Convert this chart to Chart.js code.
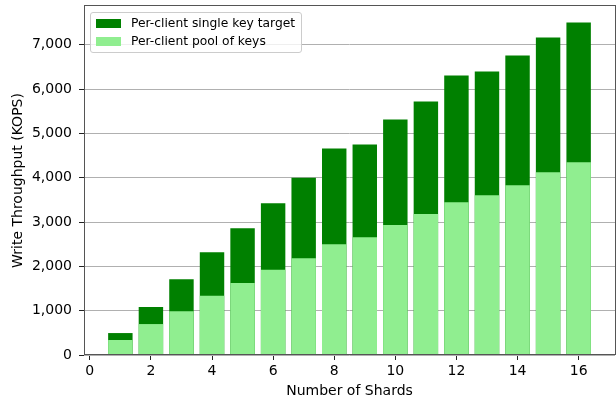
<!DOCTYPE html>
<html>
<head>
<meta charset="utf-8">
<script src="https://cdn.jsdelivr.net/npm/chart.js@4/dist/chart.umd.min.js"></script>
<style>
  html, body { margin: 0; padding: 0; background: #fff; }
  #wrap { position: relative; width: 616px; height: 402px; }
  #legend {
    position: absolute; left: 90px; top: 12px; width: 210px; height: 39px;
    border: 1px solid #cccccc; border-radius: 3px; background: rgba(255,255,255,0.8);
    font-family: "DejaVu Sans", sans-serif; font-size: 12.3px; color: #000;
  }
  .row { position: absolute; left: 0; height: 14px; display: flex; align-items: center; }
  .sw { position: absolute; left: 5px; width: 25px; height: 9px; }
  .lbl { position: absolute; left: 40px; white-space: nowrap; line-height: 14px; }
</style>
</head>
<body>
<div id="wrap">
  <canvas id="c" width="616" height="402"></canvas>
  <div id="legend">
    <div class="row" style="top:3px"><div class="sw" style="background:#008000;top:2.5px"></div><div class="lbl">Per-client single key target</div></div>
    <div class="row" style="top:21px"><div class="sw" style="background:#90ee90;top:2.5px"></div><div class="lbl">Per-client pool of keys</div></div>
  </div>
</div>
<script>
const shards = [1, 2, 3, 4, 5, 6, 7, 8, 9, 10, 11, 12, 13, 14, 15, 16];
const singleKey = [495, 1081, 1712, 2320, 2860, 3423, 4000, 4662, 4752, 5315, 5721, 6306, 6396, 6757, 7162, 7500];
const poolKeys = [338, 698, 990, 1336, 1622, 1921, 2185, 2500, 2658, 2935, 3180, 3446, 3604, 3829, 4122, 4347];
const xTicks = [0, 2, 4, 6, 8, 10, 12, 14, 16];
const yTicks = [0, 1000, 2000, 3000, 4000, 5000, 6000, 7000];

const FONT = "DejaVu Sans";

const frame = {
  id: 'frame',
  afterDraw(chart) {
    const {ctx, chartArea: a} = chart;
    ctx.save();
    ctx.strokeStyle = '#555555';
    ctx.lineWidth = 1;
    ctx.strokeRect(a.left + 0.5, a.top - 0.5, a.right - a.left, a.bottom - a.top);
    ctx.restore();
  }
};

new Chart(document.getElementById('c'), {
  type: 'bar',
  data: {
    datasets: [
      { label: 'Per-client single key target', data: shards.map((s, i) => ({x: s, y: singleKey[i]})),
        backgroundColor: '#008000', order: 1 },
      { label: 'Per-client pool of keys', data: shards.map((s, i) => ({x: s, y: poolKeys[i]})),
        backgroundColor: '#90ee90', order: 0 }
    ]
  },
  options: {
    responsive: false,
    animation: false,
    events: [],
    grouped: false,
    barPercentage: 0.8,
    categoryPercentage: 1.0,
    layout: { padding: { left: 0, right: 1, top: 6, bottom: 0 } },
    plugins: { legend: { display: false }, tooltip: { enabled: false } },
    scales: {
      x: {
        type: 'linear', min: -0.19, max: 17.19, z: 1, offset: false,
        afterBuildTicks: s => { s.ticks = xTicks.map(v => ({value: v})); },
        afterFit: s => { s.height = 47; s.paddingLeft = 0; s.paddingRight = 0; },
        ticks: { font: { family: FONT, size: 14 }, color: '#000', padding: 3, includeBounds: false,
                 callback: v => String(v) },
        grid: { offset: false, drawOnChartArea: false, drawTicks: true, tickLength: 5, tickColor: '#222', color: '#222' },
        border: { display: false },
        title: { display: true, text: 'Number of Shards', color: '#000',
                 font: { family: FONT, size: 14 }, padding: { top: 0, bottom: 2 } }
      },
      y: {
        min: 0, max: 7875, z: 1,
        afterBuildTicks: s => { s.ticks = yTicks.map(v => ({value: v})); },
        afterFit: s => { s.width = 84; s.paddingTop = 0; s.paddingBottom = 0; },
        ticks: { font: { family: FONT, size: 14 }, color: '#000', padding: 7,
                 callback: v => v.toLocaleString('en-US') },
        grid: { color: '#b0b0b0', lineWidth: 1, drawTicks: true, tickLength: 5, tickColor: '#222' },
        border: { display: false },
        title: { display: true, text: 'Write Throughput (KOPS)', color: '#000',
                 font: { family: FONT, size: 14 }, padding: { top: 10, bottom: 0 } }
      }
    }
  },
  plugins: [frame]
});
</script>
</body>
</html>
